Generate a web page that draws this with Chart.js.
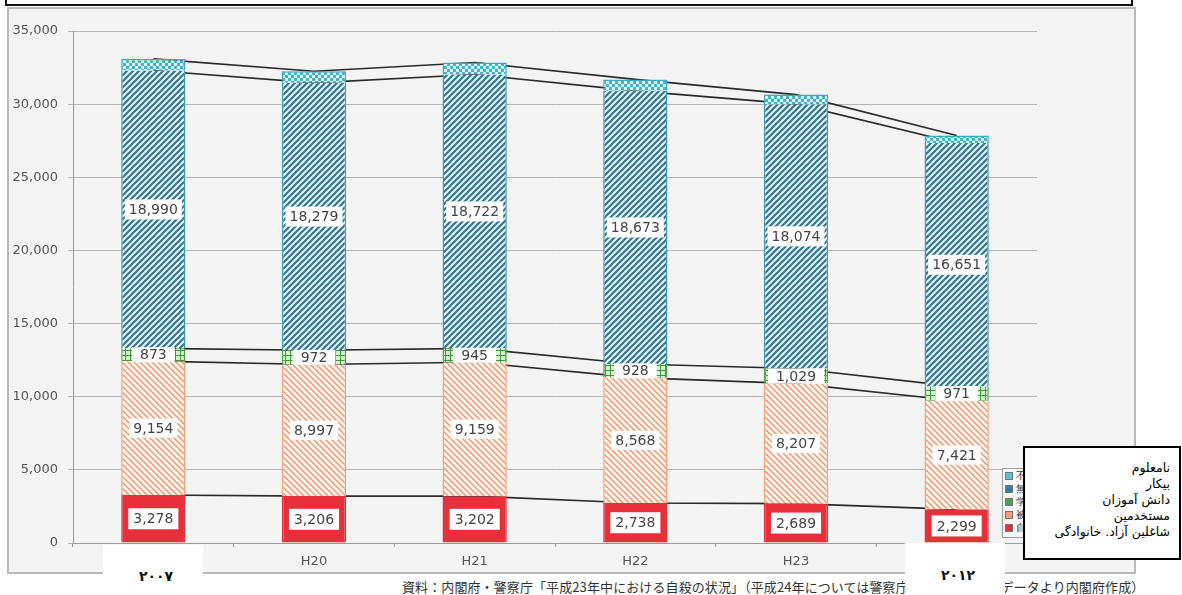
<!DOCTYPE html>
<html>
<head>
<meta charset="utf-8">
<script src="https://cdn.jsdelivr.net/npm/chart.js@4/dist/chart.umd.min.js"></script>
<style>
  html,body{margin:0;padding:0;background:#fff;}
  body{width:1182px;height:595px;position:relative;overflow:hidden;font-family:'DejaVu Sans',sans-serif;}
  #frame{position:absolute;left:7px;top:7px;width:1125px;height:563px;background:#f4f4f5;border:2px solid #b9b9b9;}
  #topbox{position:absolute;left:5px;top:-8px;width:1124px;height:10px;background:#fff;border:2px solid #111;}
  #wrap{position:absolute;left:0;top:0;width:1182px;height:595px;}
  #legend{position:absolute;left:1002px;top:468px;width:128px;height:68px;border:1px solid #9a9a9a;background:#f7f7f7;font-size:10px;color:#333;overflow:hidden;}
  #legend div{height:13px;line-height:13px;white-space:nowrap;padding-left:2px;}
  #legend span{display:inline-block;width:6px;height:6px;margin-right:3px;vertical-align:middle;border:1px solid #777;}
  #fa{position:absolute;left:1023px;top:446px;width:154px;height:110px;background:#fff;border:2px solid #000;direction:rtl;text-align:right;font-family:'DejaVu Sans',sans-serif;font-size:12.5px;color:#000;}
  #fa div{position:absolute;right:9px;height:16px;line-height:16px;white-space:nowrap;}
  .yr{position:absolute;background:#fff;font-family:'DejaVu Sans',sans-serif;font-weight:bold;font-size:14px;color:#111;text-align:center;letter-spacing:6px;text-indent:6px;}
  #src{position:absolute;left:402px;top:579px;font-family:'Noto Sans CJK JP',sans-serif;font-size:13px;color:#333;white-space:nowrap;line-height:16px;letter-spacing:0.1px;}
</style>
</head>
<body>
<div id="frame"></div>
<div id="topbox"></div>
<div id="src">資料：内閣府・警察庁「平成23年中における自殺の状況」（平成24年については警察庁の自殺統計原票データより内閣府作成）</div>
<div id="wrap"><canvas id="c" width="1182" height="595"></canvas></div>
<div id="legend"></div>
<div id="fa">
  <div style="top:12px">نامعلوم</div>
  <div style="top:28px">بیکار</div>
  <div style="top:44px">دانش آموزان</div>
  <div style="top:60px">مستخدمین</div>
  <div style="top:76px">شاغلین آزاد. خانوادگی</div>
</div>
<div class="yr" style="left:103px;top:545px;width:100px;height:50px;line-height:62px;">٢٠٠٧</div>
<div class="yr" style="left:905px;top:543px;width:100px;height:52px;line-height:64px;">٢٠١٢</div>
<script>
const years = ['H19','H20','H21','H22','H23','H24']
const selfEmployed = [3278,3206,3202,2738,2689,2299]   // 自営業・家族従事者
const employed     = [9154,8997,9159,8568,8207,7421]   // 被雇用者・勤め人
const students     = [873,972,945,928,1029,971]        // 学生・生徒等
const unemployed   = [18990,18279,18722,18673,18074,16651] // 無職者
const unknown      = [798,795,817,783,652,516]         // 不詳
const seriesNames  = ['自営業・家族従事者','被雇用者・勤め人','学生・生徒等','無職者','不詳']
const yTicks = [0,5000,10000,15000,20000,25000,30000,35000]

function pat(type, bg, fg, s, lw){
  const cv = document.createElement('canvas'); cv.width=s; cv.height=s
  const g = cv.getContext('2d')
  g.fillStyle=bg; g.fillRect(0,0,s,s)
  g.strokeStyle=fg; g.fillStyle=fg
  if(type==='diagR'||type==='diagL'){
    g.lineWidth = lw
    const segs = type==='diagR'
      ? [[-1,1,1,-1],[0,s,s,0],[s-1,s+1,s+1,s-1]]
      : [[-1,s-1,1,s+1],[0,0,s,s],[s-1,-1,s+1,1]]
    segs.forEach(([a,b,c,d])=>{g.beginPath();g.moveTo(a,b);g.lineTo(c,d);g.stroke()})
  } else if(type==='grid'){
    g.lineWidth=lw
    g.beginPath();g.moveTo(0,0.5);g.lineTo(s,0.5);g.moveTo(0.5,0);g.lineTo(0.5,s);g.stroke()
  } else if(type==='check'){
    g.fillRect(0,0,s/2,s/2); g.fillRect(s/2,s/2,s/2,s/2)
  }
  return document.getElementById('c').getContext('2d').createPattern(cv,'repeat')
}

const fills = [
  '#e8303b',
  pat('diagL','#fff7f2','#f3946a',6,1.4),
  pat('grid','#d6f0cc','#3c9a3c',5,1),
  pat('diagR','#def3fa','#33708e',6,2),
  pat('check','#e6f7fb','#3fb4cf',6,1)
]
const borders = ['#e8303b','#f4a07a','#4ca24c','#3a9cc0','#3aa8c6']
const legendSq = ['#e8303b','#f4a07a','#4ca24c','#2f7fa8','#5cc0d8']

// legend (mostly hidden behind overlay, as in the reference)
const lg = document.getElementById('legend')
;[4,3,2,1,0].forEach(i=>{
  const d=document.createElement('div')
  d.innerHTML=`<span style="background:${legendSq[i]}"></span>${seriesNames[i]}`
  lg.appendChild(d)
})

const barData = [selfEmployed,employed,students,unemployed,unknown]
const cum = []
barData.forEach((arr,k)=>{ cum.push(arr.map((v,i)=>v+(k?cum[k-1][i]:0))) })

const datasets = barData.map((arr,k)=>({
  type:'bar', label:seriesNames[k], data:arr,
  backgroundColor:fills[k], borderColor:borders[k],
  borderWidth:{left:1.5,right:1.5,top:k===4?1.5:0,bottom:0}, borderSkipped:false,
  barPercentage:0.4, categoryPercentage:1, order:0, stack:'bars'
}))
cum.forEach((arr,k)=>datasets.push({
  type:'line', data:arr, borderColor:'#2a2a2a', borderWidth:1.6,
  pointRadius:0, tension:0, fill:false, order:2, stack:'line'+k
}))

const boxStyle = [
  {px:5,h:21}, {px:4,h:19}, {px:8,h:15}, {px:4,h:20}
]
const labelPlugin = {
  id:'labels',
  afterDatasetsDraw(chart){
    const ctx=chart.ctx
    ctx.save()
    ctx.font='14px "DejaVu Sans"'
    ctx.textAlign='center'; ctx.textBaseline='middle'
    for(let k=0;k<4;k++){
      chart.getDatasetMeta(k).data.forEach((el,i)=>{
        const t = barData[k][i].toLocaleString('en-US')
        const cy = (el.y+el.base)/2
        const w = ctx.measureText(t).width + boxStyle[k].px*2
        const h = boxStyle[k].h
        ctx.fillStyle='#ffffff'
        ctx.fillRect(el.x-w/2, cy-h/2, w, h)
        ctx.fillStyle='#444'
        ctx.fillText(t, el.x, cy+1)
      })
    }
    ctx.restore()
  }
}

new Chart(document.getElementById('c'),{
  data:{ labels:years, datasets },
  options:{
    responsive:false, animation:false,
    layout:{ padding:{ top:31, left:0, right:145, bottom:22 } },
    plugins:{ legend:{display:false}, tooltip:{enabled:false} },
    scales:{
      x:{ stacked:true,
        afterFit:s=>{ s.height=30 },
        grid:{ drawOnChartArea:false, drawTicks:true, tickLength:4, offset:true, color:'#9a9a9a' },
        border:{ display:true, color:'#9a9a9a', width:1 },
        ticks:{ color:'#555', font:{family:'DejaVu Sans',size:13}, padding:7 } },
      y:{ stacked:true, min:0, max:35000,
        afterFit:s=>{ s.width=73 },
        afterBuildTicks:s=>{ s.ticks = yTicks.map(v=>({value:v})) },
        grid:{ color:'#b4b4b4', lineWidth:1, tickLength:5 },
        border:{ display:true, color:'#9a9a9a', width:1 },
        ticks:{ color:'#555', font:{family:'DejaVu Sans',size:13}, padding:10,
          callback:v=>v.toLocaleString('en-US') } }
    }
  },
  plugins:[labelPlugin]
})
</script>
</body>
</html>
